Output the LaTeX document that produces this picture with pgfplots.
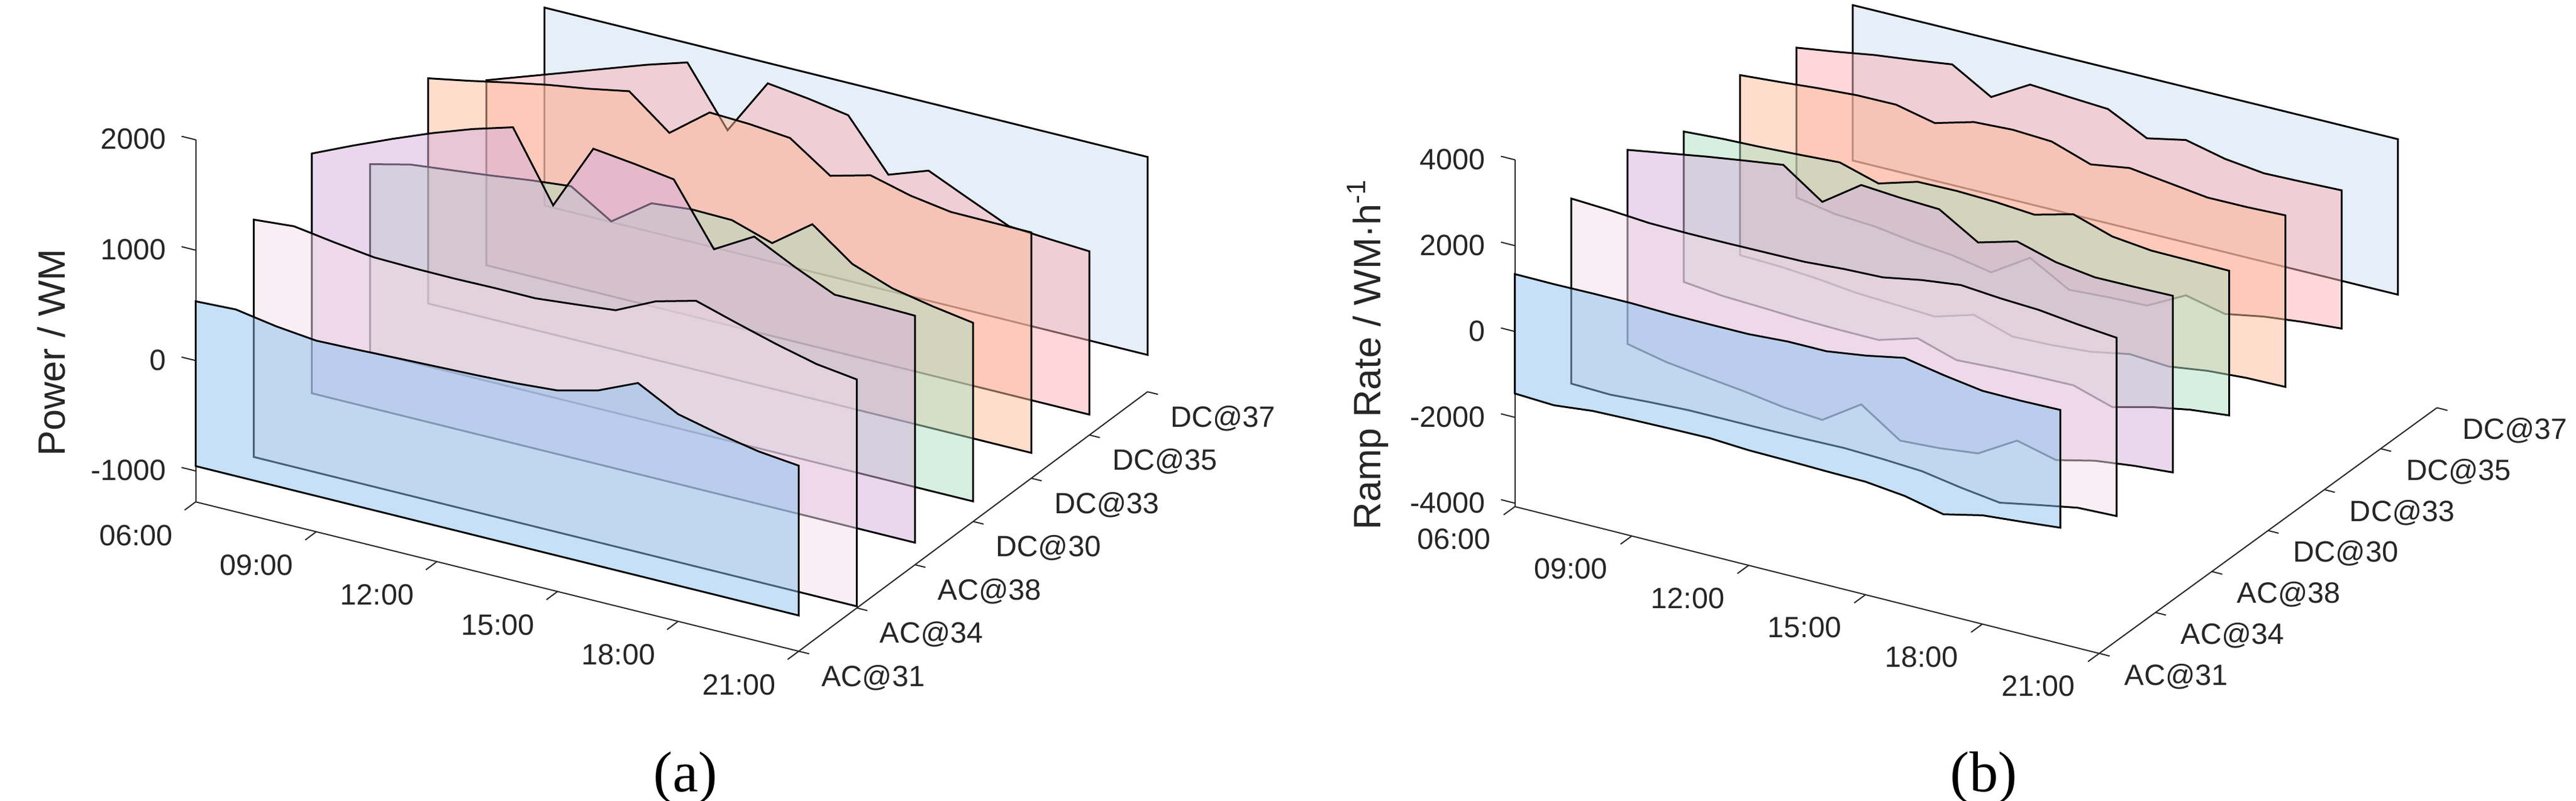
\documentclass[border=0pt]{standalone}
\usepackage{pgfplots}
\pgfplotsset{compat=1.18}
\usepackage{fontspec}
\setmainfont{Liberation Sans}
\newfontfamily\seriffont{Liberation Serif}
\definecolor{tickgray}{RGB}{38,38,38}
\definecolor{cA}{RGB}{139,193,239}
\definecolor{cB}{RGB}{241,221,231}
\definecolor{cC}{RGB}{213,175,221}
\definecolor{cD}{RGB}{173,223,193}
\definecolor{cE}{RGB}{253,187,153}
\definecolor{cF}{RGB}{251,175,181}
\definecolor{cG}{RGB}{205,221,241}
\pgfplotsset{
  wf/.style={
    clip=false, no marks,
    axis line style={draw=none},
    tick align=inside, major tick length=0pt,
    tick style={draw=none},
    tick label style={font=\fontsize{4.85}{5.5}\selectfont, text=tickgray, inner sep=0pt},
    /pgf/number format/assume math mode=true,
    /pgf/number format/1000 sep={},
    scaled z ticks=false,
    xmin=6, xmax=21, ymin=0, ymax=6,
    xtick={6,9,12,15,18,21},
    xticklabels={06:00,09:00,12:00,15:00,18:00,21:00},
    ytick={0,1,2,3,4,5,6},
    yticklabels={AC@31,AC@34,AC@38,DC@30,DC@33,DC@35,DC@37},
    zticklabel style={anchor=east, xshift=-4.7pt, yshift=0.1pt},
  },
  slice/.style={draw=black, line width=0.3pt, fill=#1, fill opacity=0.5},
  axln/.style={tickgray, line width=0.2pt, forget plot, unbounded coords=jump},
}
\begin{document}
\begin{tikzpicture}
\useasboundingbox (0,0) rectangle (425.9pt,-132.4pt);
% ---------------- panel (a) ----------------
\begin{axis}[wf,
  at={(32.35pt,-59.64pt)}, anchor=origin,
  x={(6.647pt,-1.647pt)}, y={(9.611pt,7.154pt)}, z={(0pt,0.018269pt)},
  zmin=-1280, zmax=2000, ztick={-1000,0,1000,2000},
  xticklabel style={anchor=north east, xshift=-3.6pt, yshift=-3.6pt},
  yticklabel style={anchor=north west, xshift=3.6pt, yshift=-2.1pt}]
\addplot3[axln] coordinates {(6,0,-1280) (21,0,-1280)};
\addplot3[axln] coordinates {(21,0,-1280) (21,6,-1280)};
\addplot3[axln] coordinates {(6,0,-1280) (6,0,2000)};
\addplot3[axln] coordinates {(6,0,-1280) (6,-0.19,-1280) (nan,nan,nan) (9,0,-1280) (9,-0.19,-1280) (nan,nan,nan) (12,0,-1280) (12,-0.19,-1280) (nan,nan,nan) (15,0,-1280) (15,-0.19,-1280) (nan,nan,nan) (18,0,-1280) (18,-0.19,-1280) (nan,nan,nan) (21,0,-1280) (21,-0.19,-1280)};
\addplot3[axln] coordinates {(21,0,-1280) (21.26,0,-1280) (nan,nan,nan) (21,1,-1280) (21.26,1,-1280) (nan,nan,nan) (21,2,-1280) (21.26,2,-1280) (nan,nan,nan) (21,3,-1280) (21.26,3,-1280) (nan,nan,nan) (21,4,-1280) (21.26,4,-1280) (nan,nan,nan) (21,5,-1280) (21.26,5,-1280) (nan,nan,nan) (21,6,-1280) (21.26,6,-1280)};
\addplot3[axln] coordinates {(6,0,-1000) (5.65,0,-1000) (nan,nan,nan) (6,0,0) (5.65,0,0) (nan,nan,nan) (6,0,1000) (5.65,0,1000) (nan,nan,nan) (6,0,2000) (5.65,0,2000)};
% DC@37
\addplot3[slice=cG] coordinates {(6,6,847) (9,6,847) (12,6,847) (15,6,847) (18,6,847) (21,6,847) (21,6,-946) (6,6,-946)} -- cycle;
% DC@35
\addplot3[slice=cF] coordinates {(6,5,581) (7,5,706) (8,5,831) (9,5,957) (10,5,1082) (11,5,1193) (12,5,669) (13,5,1184) (14,5,1137) (15,5,1076) (16,5,627) (17,5,754) (18,5,590) (19,5,431) (20,5,405) (21,5,384) (21,5,-1095) (6,5,-1095)} -- cycle;
% DC@33
\addplot3[slice=cE] coordinates {(6,4,990) (7,4,1058) (8,4,1132) (9,4,1201) (10,4,1256) (11,4,1324) (12,4,1037) (13,4,1312) (14,4,1296) (15,4,1261) (16,4,1009) (17,4,1104) (18,4,1009) (19,4,952) (20,4,949) (21,4,947) (21,4,-1050) (6,4,-1050)} -- cycle;
% DC@30
\addplot3[slice=cD] coordinates {(6,3,604) (7,3,691) (8,3,731) (9,3,772) (10,3,819) (11,3,855) (12,3,627) (13,3,881) (14,3,916) (15,3,909) (16,3,791) (17,3,1052) (18,3,781) (19,3,650) (20,3,578) (21,3,520) (21,3,-1098) (6,3,-1098)} -- cycle;
% AC@38
\addplot3[slice=cC] coordinates {(6,2,1092) (7,2,1253) (8,2,1405) (9,2,1548) (10,2,1675) (11,2,1781) (12,2,1164) (13,2,1767) (14,2,1723) (15,2,1670) (16,2,1127) (17,2,1332) (18,2,1150) (19,2,986) (20,2,984) (21,2,976) (21,2,-1080) (6,2,-1080)} -- cycle;
% AC@34
\addplot3[slice=cB] coordinates {(6,1,885) (7,1,915) (8,1,860) (9,1,813) (10,1,804) (11,1,801) (12,1,806) (13,1,804) (14,1,839) (15,1,876) (16,1,1047) (17,1,1142) (18,1,1033) (19,1,929) (20,1,839) (21,1,790) (21,1,-1265) (6,1,-1265)} -- cycle;
% AC@31
\addplot3[slice=cA] coordinates {(6,0,537) (7,0,553) (8,0,491) (9,0,451) (10,0,461) (11,0,474) (12,0,486) (13,0,498) (14,0,514) (15,0,541) (16,0,631) (17,0,789) (18,0,597) (19,0,511) (20,0,440) (21,0,401) (21,0,-956) (6,0,-956)} -- cycle;
\end{axis}
% ---------------- panel (b) ----------------
\begin{axis}[wf,
  at={(250.47pt,-54.83pt)}, anchor=origin,
  x={(6.440pt,-1.619pt)}, y={(9.307pt,6.774pt)}, z={(0pt,0.0070946pt)},
  zmin=-4080, zmax=4000, ztick={-4000,-2000,0,2000,4000},
  xticklabel style={anchor=north east, xshift=-3.8pt, yshift=-3.5pt},
  yticklabel style={anchor=north west, xshift=4.0pt, yshift=-1.5pt}]
\addplot3[axln] coordinates {(6,0,-4080) (21,0,-4080)};
\addplot3[axln] coordinates {(21,0,-4080) (21,6,-4080)};
\addplot3[axln] coordinates {(6,0,-4080) (6,0,4000)};
\addplot3[axln] coordinates {(6,0,-4080) (6,-0.2,-4080) (nan,nan,nan) (9,0,-4080) (9,-0.2,-4080) (nan,nan,nan) (12,0,-4080) (12,-0.2,-4080) (nan,nan,nan) (15,0,-4080) (15,-0.2,-4080) (nan,nan,nan) (18,0,-4080) (18,-0.2,-4080) (nan,nan,nan) (21,0,-4080) (21,-0.2,-4080)};
\addplot3[axln] coordinates {(21,0,-4080) (21.27,0,-4080) (nan,nan,nan) (21,1,-4080) (21.27,1,-4080) (nan,nan,nan) (21,2,-4080) (21.27,2,-4080) (nan,nan,nan) (21,3,-4080) (21.27,3,-4080) (nan,nan,nan) (21,4,-4080) (21.27,4,-4080) (nan,nan,nan) (21,5,-4080) (21.27,5,-4080) (nan,nan,nan) (21,6,-4080) (21.27,6,-4080)};
\addplot3[axln] coordinates {(6,0,-4000) (5.64,0,-4000) (nan,nan,nan) (6,0,-2000) (5.64,0,-2000) (nan,nan,nan) (6,0,0) (5.64,0,0) (nan,nan,nan) (6,0,2000) (5.64,0,2000) (nan,nan,nan) (6,0,4000) (5.64,0,4000)};
% DC@37
\addplot3[slice=cG] coordinates {(6,6,1881) (7,6,1886) (8,6,1891) (9,6,1895) (10,6,1900) (11,6,1905) (12,6,1910) (13,6,1915) (14,6,1919) (15,6,1924) (16,6,1929) (17,6,1934) (18,6,1939) (19,6,1943) (20,6,1948)
 (20,6,-1674) (19,6,-1679) (18,6,-1683) (17,6,-1688) (16,6,-1693) (15,6,-1697) (14,6,-1702) (13,6,-1707) (12,6,-1712) (11,6,-1716) (10,6,-1721) (9,6,-1726) (8,6,-1731) (7,6,-1735) (6,6,-1740)} -- cycle;
% DC@35
\addplot3[slice=cF] coordinates {(6,5,1843) (7,5,1978) (8,5,2128) (9,5,2239) (10,5,2365) (11,5,1833) (12,5,2351) (13,5,2290) (14,5,2237) (15,5,1783) (16,5,1972) (17,5,1762) (18,5,1653) (19,5,1678) (20,5,1711)
 (20,5,-1510) (19,5,-1583) (18,5,-1686) (17,5,-1852) (16,5,-1648) (15,5,-2113) (14,5,-2145) (13,5,-2202) (12,5,-1686) (11,5,-2251) (10,5,-2080) (9,5,-1994) (8,5,-1862) (7,5,-1808) (6,5,-1645)} -- cycle;
% DC@33
\addplot3[slice=cE] coordinates {(6,4,2157) (7,4,2229) (8,4,2309) (9,4,2372) (10,4,2382) (11,4,2180) (12,4,2432) (13,4,2481) (14,4,2434) (15,4,2130) (16,4,2273) (17,4,2157) (18,4,2041) (19,4,2049) (20,4,2082)
 (20,4,-1915) (19,4,-1933) (18,4,-1996) (17,4,-2123) (16,4,-2062) (15,4,-2236) (14,4,-2308) (13,4,-2340) (12,4,-2060) (11,4,-2328) (10,4,-2282) (9,4,-2237) (8,4,-2136) (7,4,-2067) (6,4,-2037)} -- cycle;
% DC@30
\addplot3[slice=cD] coordinates {(6,3,1797) (7,3,1854) (8,3,1887) (9,3,1935) (10,3,1991) (11,3,1726) (12,3,1994) (13,3,2011) (14,3,1981) (15,3,1912) (16,3,2149) (17,3,1860) (18,3,1760) (19,3,1753) (20,3,1746)
 (20,3,-1624) (19,3,-1720) (18,3,-1885) (17,3,-2114) (16,3,-1834) (15,3,-1851) (14,3,-1884) (13,3,-1932) (12,3,-1651) (11,3,-1919) (10,3,-1913) (9,3,-1891) (8,3,-1845) (7,3,-1807) (6,3,-1707)} -- cycle;
% AC@38
\addplot3[slice=cC] coordinates {(6,2,2324) (7,2,2474) (8,2,2625) (9,2,2759) (10,2,2886) (11,2,2252) (12,2,2873) (13,2,2804) (14,2,2766) (15,2,2219) (16,2,2471) (17,2,2214) (18,2,2090) (19,2,2099) (20,2,2116)
 (20,2,-1999) (19,2,-2072) (18,2,-2182) (17,2,-2395) (16,2,-2170) (15,2,-2696) (14,2,-2800) (13,2,-2855) (12,2,-2238) (11,2,-2827) (10,2,-2758) (9,2,-2619) (8,2,-2510) (7,2,-2394) (6,2,-2199)} -- cycle;
% AC@34
\addplot3[slice=cB] coordinates {(6,1,2144) (7,1,2098) (8,1,2029) (9,1,2014) (10,1,2016) (11,1,2025) (12,1,2035) (13,1,2099) (14,1,2131) (15,1,2297) (16,1,2409) (17,1,2332) (18,1,2286) (19,1,2177) (20,1,2093)
 (20,1,-2062) (19,1,-2095) (18,1,-2260) (17,1,-2434) (16,1,-2310) (15,1,-2155) (14,1,-2102) (13,1,-2071) (12,1,-2088) (11,1,-2098) (10,1,-2099) (9,1,-2101) (8,1,-2141) (7,1,-2197) (6,1,-2168)} -- cycle;
% AC@31
\addplot3[slice=cA] coordinates {(6,0,1337) (7,0,1331) (8,0,1341) (9,0,1341) (10,0,1312) (11,0,1305) (12,0,1307) (13,0,1363) (14,0,1364) (15,0,1491) (16,0,1665) (17,0,1494) (18,0,1355) (19,0,1348) (20,0,1365)
 (20,0,-1379) (19,0,-1466) (18,0,-1546) (17,0,-1751) (16,0,-1549) (15,0,-1448) (14,0,-1434) (13,0,-1412) (12,0,-1398) (11,0,-1344) (10,0,-1354) (9,0,-1371) (8,0,-1395) (7,0,-1491) (6,0,-1445)} -- cycle;
\end{axis}
% ---------------- labels ----------------
\node[rotate=90, font=\fontsize{6.3}{7}\selectfont, text=tickgray] at (8.45pt,-58.3pt) {Power / WM};
\node[rotate=90, font=\fontsize{6.3}{7}\selectfont, text=tickgray] at (226.15pt,-58.45pt) {Ramp Rate / WM·h\textsuperscript{-1}};
\node[anchor=base, font=\seriffont\fontsize{9.5}{11}\selectfont] at (113.35pt,-130.9pt) {(a)};
\node[anchor=base, font=\seriffont\fontsize{9.5}{11}\selectfont] at (328.0pt,-130.9pt) {(b)};
\end{tikzpicture}
\end{document}
